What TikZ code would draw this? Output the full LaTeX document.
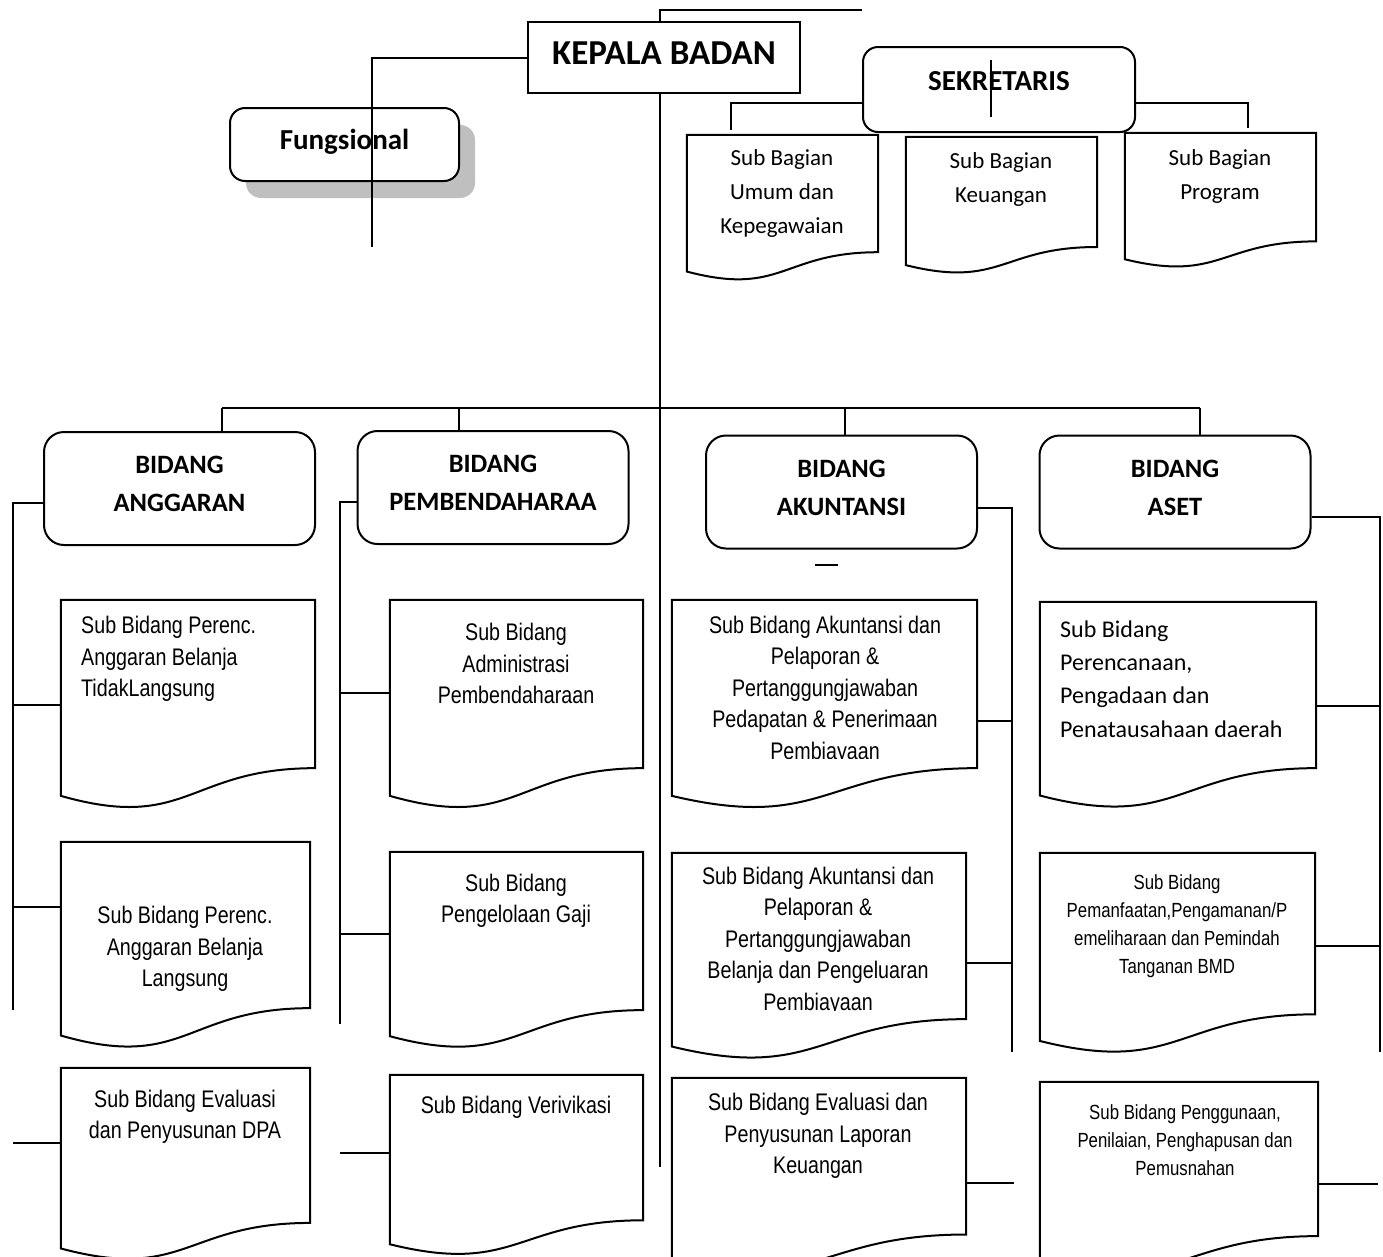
\documentclass[tikz,border=0pt]{standalone}
\usepackage{fontspec}
\setmainfont{Carlito}
\newfontfamily\arialn[FakeStretch=0.82]{Liberation Sans}
\usetikzlibrary{positioning,calc,shadows}

\tikzset{
  ln/.style={line width=2pt},
  kepalabox/.style={draw, line width=2pt, minimum width=272pt, minimum height=71pt, inner sep=0pt, text depth=9pt, font=\fontsize{35}{40}\selectfont\bfseries},
  rbox/.style={draw, fill=white, line width=2pt, rounded corners=15pt, inner sep=0pt, font=\fontsize{29}{34}\selectfont\bfseries},
  bidang/.style={draw, line width=2pt, rounded corners=20pt, minimum width=271pt, minimum height=113pt, inner sep=0pt, align=center, font=\fontsize{26.5}{38}\selectfont\bfseries},
  docframe/.style={inner sep=0pt},
  bagtxt/.style={align=center, inner sep=0pt, font=\fontsize{23}{34}\selectfont},
  asettxt/.style={align=left, inner sep=0pt, font=\fontsize{24}{33.3}\selectfont},
  subtxt/.style={align=center, inner sep=0pt, font=\arialn\fontsize{24}{31.5}\selectfont},
  smalltxt/.style={align=center, inner sep=0pt, font=\arialn\fontsize{20.5}{28}\selectfont},
}

% document shape (wavy bottom)
\newcommand\docline[1]{\draw[ln] (#1.north west) -- (#1.north east) -- ($(#1.north east)!0.802!(#1.south east)$) .. controls ($(#1.north)!0.802!(#1.south)$) and ($(#1.north)!1.107!(#1.south)$) .. ($(#1.north west)!0.934!(#1.south west)$) -- cycle;}
\newcommand\dn{\rule[-9pt]{0pt}{9pt}}

\begin{document}
\begin{tikzpicture}[x=1pt, y=-1pt]
    \path[use as bounding box, fill=white] (0,0) rectangle (1383,1256);

    % Top
    \node[kepalabox] (kepala) at (664,57.5) {KEPALA BADAN};
    \node[rbox, minimum width=229pt, minimum height=73pt, text height=19pt, text depth=10pt,
          drop shadow={shadow xshift=16pt, shadow yshift=-17pt, fill=black!25, opacity=1}] (fung) at (344.5,144.5) {Fungsional};

    % Sub Bagian and Sub Bidang boxes
    \foreach \n/\x/\y/\w/\h in {umum/782.5/208/191/146, keu/1001.5/205.5/191/137, prog/1220.5/200.5/191/135,
        a1/188/704.75/254/209.5, a2/185.5/945.5/249/207, a3/185.5/1164.5/249/193,
        p1/516.5/704.75/253/209.5, p2/516.5/950.5/253/197, p3/516.5/1165.5/253/181,
        k1/824.5/704.75/305/209.5, k2/819/956.5/294/207, k3/819/1175.5/294/195,
        s1/1178/705.5/276/207, s2/1177.5/953.5/275/201, s3/1179/1178/278/192}{
        \node[docframe, minimum width=\w pt, minimum height=\h pt] (\n) at (\x,\y) {};
        \docline{\n}
    }

    \node[rbox, minimum width=272pt, minimum height=85pt, text depth=17pt] (sek) at (999,89.5) {SEKRETARIS};

    % Bidang
    \node[bidang] (ang) at (179.5,488.5) {BIDANG\\ANGGARAN\dn};
    \node[bidang] (pem) at (493,487.5) {BIDANG\\PEMBENDAHARAA\dn};
    \node[bidang] (akun) at (841.5,492) {BIDANG\\AKUNTANSI\dn};
    \node[bidang] (aset) at (1175,492) {BIDANG\\ASET\dn};

    % Texts
    \node[bagtxt] (umumt) at (782,193) {Sub Bagian\\Umum dan\\Kepegawaian};
    \node[bagtxt] (keut) at (1001,179) {Sub Bagian\\Keuangan};
    \node[bagtxt] (progt) at (1220,176.5) {Sub Bagian\\Program};

    \node[subtxt, align=left, anchor=west] (a1t) at (81,659) {Sub Bidang Perenc.\\Anggaran Belanja\\TidakLangsung};
    \node[subtxt] (a2t) at (185,949) {Sub Bidang Perenc.\\Anggaran Belanja\\Langsung};
    \node[subtxt] (a3t) at (185,1117) {Sub Bidang Evaluasi\\dan Penyusunan DPA};

    \node[subtxt] (p1t) at (516,663.5) {Sub Bidang\\Administrasi\\Pembendaharaan};
    \node[subtxt] (p2t) at (516,901) {Sub Bidang\\Pengelolaan Gaji};
    \node[subtxt] (p3t) at (516,1107) {Sub Bidang Verivikasi};

    \begin{scope}
        \clip (672,590) rectangle (977,758);
        \node[subtxt] (k1t) at (825,690) {Sub Bidang Akuntansi dan\\Pelaporan \&\\Pertanggungjawaban\\Pedapatan \& Penerimaan\\Pembiayaan};
    \end{scope}
    \begin{scope}
        \clip (672,850) rectangle (966,1010);
        \node[subtxt] (k2t) at (818,941) {Sub Bidang Akuntansi dan\\Pelaporan \&\\Pertanggungjawaban\\Belanja dan Pengeluaran\\Pembiayaan};
    \end{scope}
    \node[subtxt] (k3t) at (818,1136) {Sub Bidang Evaluasi dan\\Penyusunan Laporan\\Keuangan};

    \node[asettxt, anchor=west] (s1t) at (1060,679) {Sub Bidang\\Perencanaan,\\Pengadaan dan\\Penatausahaan daerah};
    \node[smalltxt] (s2t) at (1177,926.5) {Sub Bidang\\Pemanfaatan,Pengamanan/P\\emeliharaan dan Pemindah\\Tanganan BMD};
    \node[smalltxt] (s3t) at (1185,1140) {Sub Bidang Penggunaan,\\Penilaian, Penghapusan dan\\Pemusnahan};

    % Lines from Kepala Badan
    \coordinate (trunk) at (660,1167);
    \coordinate (topR) at (862,10);
    \coordinate (fungV) at (372,247);
    \draw[ln] (kepala.north -| trunk) |- (topR);
    \draw[ln] (kepala.south -| trunk) -- (trunk);
    \draw[ln] (kepala.west) -| (fungV);

    % Sekretaris
    \coordinate (sekL) at (731,130);
    \coordinate (sekR) at (1248,128);
    \coordinate (sekA) at (991,60);
    \coordinate (sekB) at (991,117);
    \draw[ln] ([yshift=-13.5pt]sek.west) -| (sekL);
    \draw[ln] ([yshift=-13.5pt]sek.east) -| (sekR);
    \draw[ln] (sekA) -- (sekB);

    % Bus to Bidang
    \coordinate (busL) at (222,408);
    \coordinate (busR) at (1200,408);
    \coordinate (d2) at (459,408);
    \coordinate (d3) at (845,408);
    \draw[ln] (busL) -- (busR);
    \foreach \c/\b in {busL/ang, d2/pem, d3/akun, busR/aset}
        \draw[ln] (\c) -- (\c |- \b.north);

    % Side lines
    \coordinate (angV) at (13,1010);
    \coordinate (pemV) at (340,1024);
    \coordinate (akunV) at (1012,1052);
    \coordinate (asetV) at (1380,1052);
    \draw[ln] ([yshift=-14.5pt]ang.west) -| (angV);
    \draw[ln] ([yshift=-14.5pt]pem.west) -| (pemV);
    \draw[ln] ([yshift=-16pt]akun.east) -| (akunV);
    \draw[ln] ([yshift=-25pt]aset.east) -| (asetV);

    \draw[ln] (a1.west) -- ++(-48,0);
    \draw[ln] ([yshift=38.5pt]a2.west) -- ++(-48,0);
    \draw[ln] ([yshift=21.5pt]a3.west) -- ++(-48,0);
    \draw[ln] ([yshift=11.75pt]p1.west) -- ++(-50,0);
    \draw[ln] ([yshift=16.5pt]p2.west) -- ++(-50,0);
    \draw[ln] ([yshift=12.5pt]p3.west) -- ++(-50,0);
    \draw[ln] ([yshift=-16.25pt]k1.east) -- ++(35,0);
    \draw[ln] ([yshift=-6.5pt]k2.east) -- ++(46,0);
    \draw[ln] ([yshift=-7.5pt]k3.east) -- ++(48,0);
    \draw[ln] (s1.east) -- ++(64,0);
    \draw[ln] ([yshift=7.5pt]s2.east) -- ++(65,0);
    \draw[ln] ([yshift=-6pt]s3.east) -- ++(60,0);

    \draw[ln] (815,565) -- (838,565);
\end{tikzpicture}
\end{document}
